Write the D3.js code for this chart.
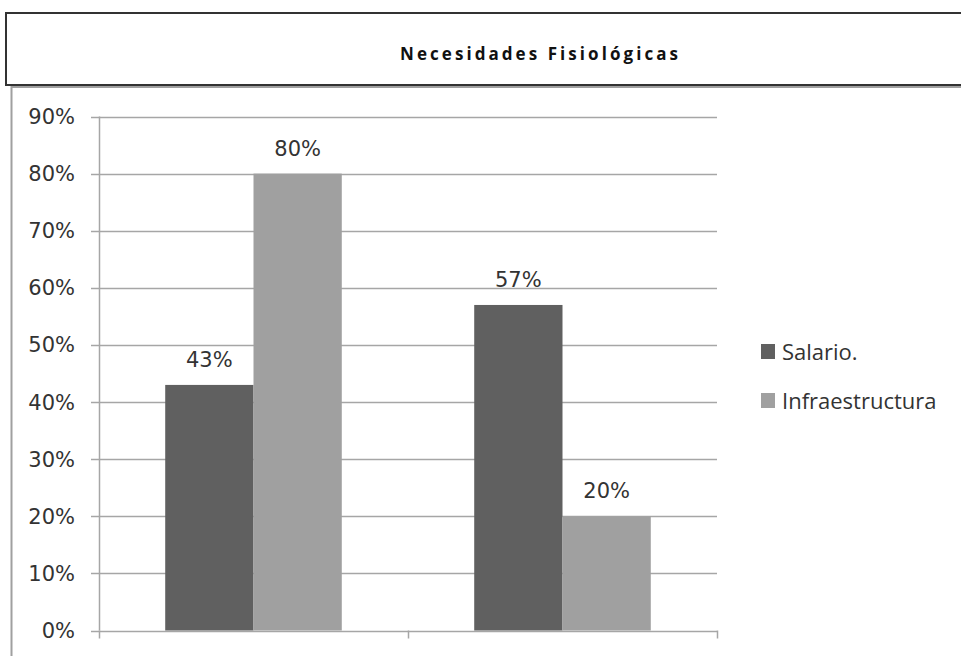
<!DOCTYPE html>
<html>
<head>
<meta charset="utf-8">
<script src="https://cdn.jsdelivr.net/npm/d3@7"></script>
<style>
  body { margin: 0; background: #fff; overflow: hidden; }
  #container { width: 961px; height: 656px; }
</style>
</head>
<body>
<div id="container"></div>
<script>
"use strict";
// values
const title = "Necesidades Fisiológicas";
const categories = ["Grupo 1", "Grupo 2"];
const series = ["Salario.", "Infraestructura"];
const salario = [0.43, 0.57];
const infraestructura = [0.80, 0.20];
const yTicks = [0, 0.1, 0.2, 0.3, 0.4, 0.5, 0.6, 0.7, 0.8, 0.9];

const colors = ["#606060", "#a0a0a0"];
const values = [salario, infraestructura];

const svg = d3.select("#container").append("svg")
    .attr("width", 961)
    .attr("height", 656);

// title box (runs off the right edge like the original)
svg.append("rect")
    .attr("x", 6).attr("y", 13)
    .attr("width", 1100).attr("height", 72)
    .attr("fill", "none")
    .attr("stroke", "#333")
    .attr("stroke-width", 2);

svg.append("text")
    .attr("x", 400).attr("y", 60)
    .attr("textLength", 278)
    .attr("lengthAdjust", "spacing")
    .style("font-family", "'Liberation Sans Narrow', 'Open Sans', sans-serif")
    .style("font-weight", "bold")
    .style("font-size", "17px")
    .attr("fill", "#111")
    .text(title);

// chart frame
svg.append("rect")
    .attr("x", 11.5).attr("y", 87)
    .attr("width", 1100).attr("height", 700)
    .attr("fill", "none")
    .attr("stroke", "#a0a0a0")
    .attr("stroke-width", 2);

const x0 = d3.scaleBand()
    .domain(categories)
    .range([99, 717]);

const x1 = d3.scaleBand()
    .domain(series)
    .range([0, x0.bandwidth()])
    .paddingOuter(0.75);

const y = d3.scaleLinear()
    .domain([0, 0.9])
    .range([630.5, 116.5]);

const pct = d3.format(".0%");
const gridColor = "#a6a6a6";

// gridlines
svg.append("g")
    .selectAll("line")
    .data(yTicks)
    .enter().append("line")
        .attr("x1", 91).attr("x2", 717)
        .attr("y1", d => Math.round(y(d)) + 0.5)
        .attr("y2", d => Math.round(y(d)) + 0.5)
        .attr("stroke", gridColor)
        .attr("stroke-width", 1.5);

// y axis line
svg.append("line")
    .attr("x1", 99.5).attr("x2", 99.5)
    .attr("y1", y(0.9)).attr("y2", y(0))
    .attr("stroke", gridColor)
    .attr("stroke-width", 1.5);

// y tick labels
svg.append("g")
    .selectAll("text")
    .data(yTicks)
    .enter().append("text")
        .attr("x", 75)
        .attr("y", d => y(d) + 7.5)
        .attr("text-anchor", "end")
        .style("font-family", "'DejaVu Sans', sans-serif")
        .style("font-size", "21px")
        .attr("fill", "#333")
        .text(pct);

// bottom category ticks (no labels in the original)
const xTickPos = [x0.range()[0]].concat(categories.map(c => x0(c) + x0.bandwidth()));
svg.append("g")
    .selectAll("line")
    .data(xTickPos)
    .enter().append("line")
        .attr("x1", d => Math.round(d) + 0.5)
        .attr("x2", d => Math.round(d) + 0.5)
        .attr("y1", y(0)).attr("y2", y(0) + 8)
        .attr("stroke", gridColor)
        .attr("stroke-width", 1.5);

// bars
const rows = [];
categories.forEach((c, i) => {
    series.forEach((s, j) => {
        rows.push({cat: c, ser: s, val: values[j][i], col: colors[j]});
    });
});

svg.append("g")
    .selectAll("rect")
    .data(rows)
    .enter().append("rect")
        .attr("x", d => x0(d.cat) + x1(d.ser))
        .attr("y", d => y(d.val))
        .attr("width", x1.bandwidth())
        .attr("height", d => y(0) - y(d.val))
        .attr("fill", d => d.col);

// data labels
svg.append("g")
    .selectAll("text")
    .data(rows)
    .enter().append("text")
        .attr("x", d => x0(d.cat) + x1(d.ser) + x1.bandwidth() / 2)
        .attr("y", d => y(d.val) - 18)
        .attr("text-anchor", "middle")
        .style("font-family", "'DejaVu Sans', sans-serif")
        .style("font-size", "21px")
        .attr("fill", "#333")
        .text(d => pct(d.val));

// legend
const legend = svg.append("g")
    .attr("transform", "translate(761, 344)");

legend.selectAll("rect")
    .data(series)
    .enter().append("rect")
        .attr("x", 0)
        .attr("y", (d, i) => i * 49)
        .attr("width", 14)
        .attr("height", 15)
        .attr("fill", (d, i) => colors[i]);

legend.selectAll("text")
    .data(series)
    .enter().append("text")
        .attr("x", 21)
        .attr("y", (d, i) => i * 49 + 16)
        .style("font-family", "'Open Sans', sans-serif")
        .style("font-size", "22px")
        .attr("fill", "#333")
        .text(d => d);
</script>
</body>
</html>
